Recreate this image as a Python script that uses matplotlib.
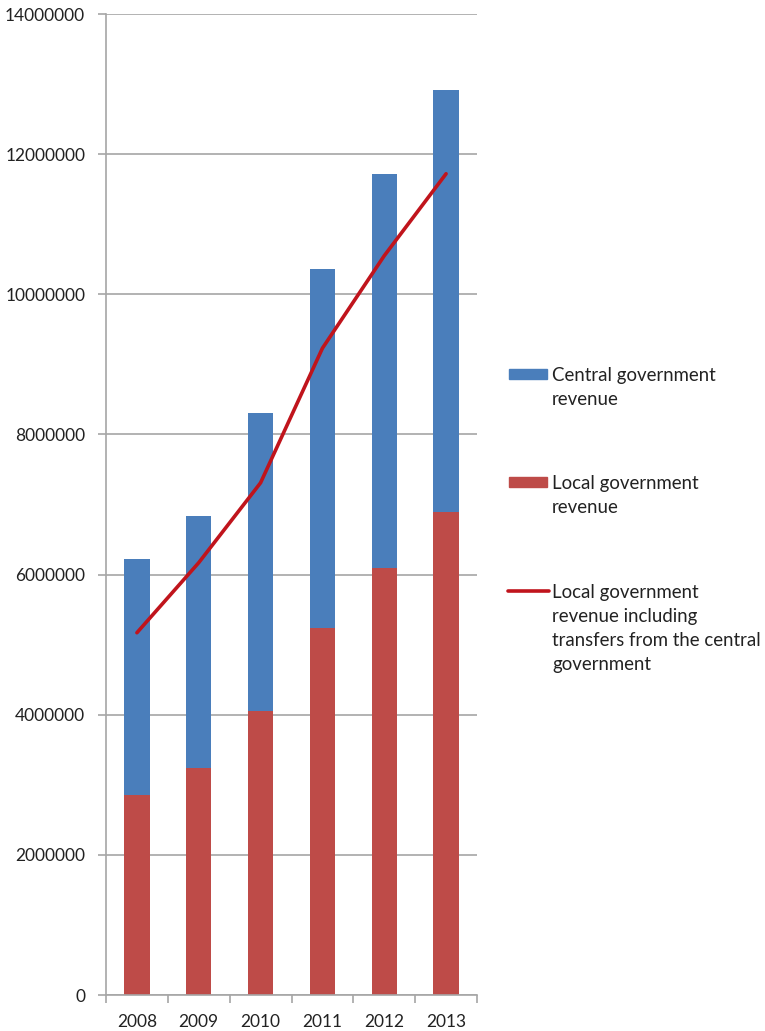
import matplotlib.pyplot as plt
from matplotlib.patches import Rectangle
from matplotlib.lines import Line2D
import numpy as np

years = ["2008", "2009", "2010", "2011", "2012", "2013"]
local_rev = [2850000, 3240000, 4050000, 5240000, 6090000, 6890000]
total_rev = [6220000, 6840000, 8310000, 10360000, 11720000, 12920000]
local_incl_transfers = [5170000, 6170000, 7310000, 9230000, 10550000, 11720000]
central_rev = [t - l for t, l in zip(total_rev, local_rev)]

blue = "#4A7EBB"
red = "#BE4B48"
line_red = "#C0141C"
grid = "#A6A6A6"

plt.rcParams['font.family'] = ['Lato', 'DejaVu Sans']

fig = plt.figure(figsize=(7.65, 10.31), dpi=100)
ax = fig.add_axes([106/765, 36/1031, (477-106)/765, (995-14)/1031])

x = np.arange(len(years))
ax.bar(x, local_rev, width=0.41, color=red, zorder=2)
ax.bar(x, central_rev, bottom=local_rev, width=0.41, color=blue, zorder=2)
ax.plot(x, local_incl_transfers, color=line_red, lw=2.6, zorder=3, solid_capstyle='round')

ax.set_xlim(-0.5, 5.5)
ax.set_ylim(0, 14000000)
ax.set_yticks(range(0, 14000001, 2000000))
ax.set_yticklabels([str(v) for v in range(0, 14000001, 2000000)], fontsize=12.5, color="#222222")
ax.yaxis.grid(True, color=grid, lw=1.2, zorder=0)
ax.set_axisbelow(True)

ax.set_xticks(x)
ax.set_xticklabels(years, fontsize=12.5, color="#222222")
ax.set_xticks(np.arange(-0.5, 6, 1), minor=True)
ax.tick_params(axis='x', which='major', length=0, pad=14)
ax.tick_params(axis='x', which='minor', length=6, color=grid, width=1.2)
ax.tick_params(axis='y', length=6, color=grid, width=1.2, pad=9)

for s in ['top', 'right']:
    ax.spines[s].set_visible(False)
for s in ['left', 'bottom']:
    ax.spines[s].set_color(grid)
    ax.spines[s].set_linewidth(1.2)

# legend drawn by hand so each key lines up with the first text line
W, H = 765, 1031
entries = [
    ("patch", blue, "Central government\nrevenue", 374),
    ("patch", red, "Local government\nrevenue", 482),
    ("line", line_red, "Local government\nrevenue including\ntransfers from the central\ngovernment", 591),
]
for kind, col, label, yc in entries:
    if kind == "patch":
        fig.patches.append(Rectangle((509/W, 1 - (yc + 5)/H), 38/W, 10/H,
                                     transform=fig.transFigure, color=col))
    else:
        fig.lines.append(Line2D([508/W, 549/W], [1 - yc/H, 1 - yc/H],
                                transform=fig.transFigure, color=col, lw=2.6,
                                solid_capstyle='round'))
    fig.text(552/W, 1 - (yc - 7)/H, label, fontsize=13.4, color="#222222",
             va='top', ha='left', linespacing=1.5)

fig.savefig("out.png", dpi=100)
